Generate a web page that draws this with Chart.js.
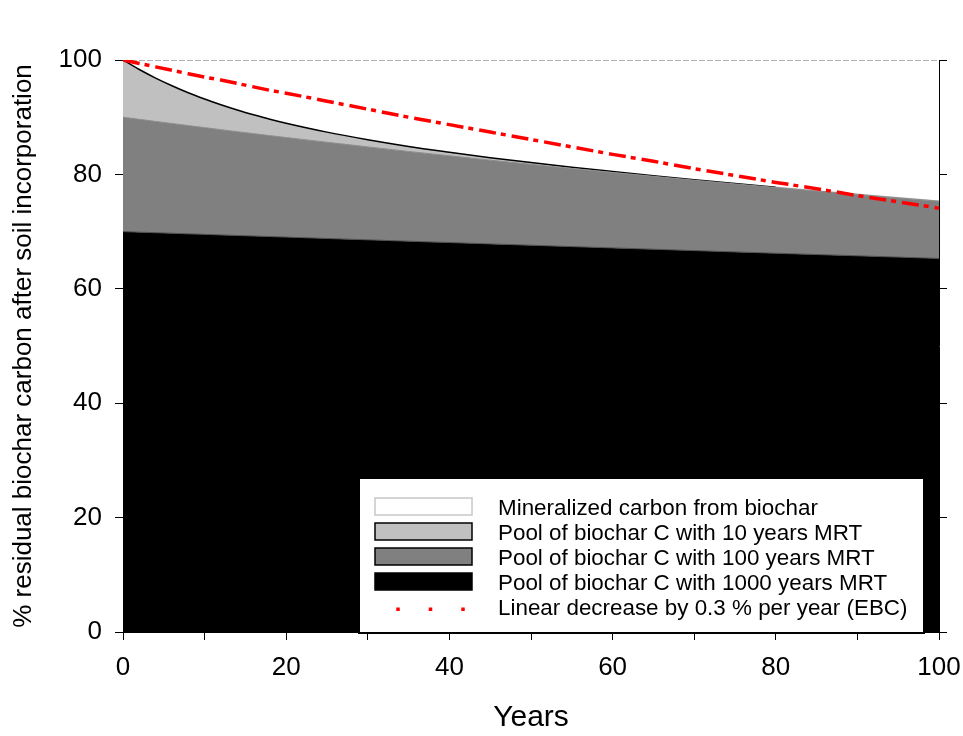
<!DOCTYPE html>
<html><head><meta charset="utf-8">
<script src="https://cdn.jsdelivr.net/npm/chart.js@4.4.1/dist/chart.umd.min.js"></script>
<style>html,body{margin:0;padding:0;background:#fff}canvas{display:block}</style>
</head><body>
<canvas id="c" width="963" height="736"></canvas>
<script>
// ---- data ----
const years    = [0,2,4,6,8,10,12,14,16,18,20,25,30,35,40,45,50,55,60,65,70,75,80,85,90,95,100];
const pool1000 = [70.00,69.90,69.81,69.71,69.61,69.52,69.42,69.32,69.23,69.13,69.04,68.80,68.56,68.32,68.09,67.85,67.62,67.38,67.15,66.92,66.68,66.45,66.22,65.99,65.77,65.54,65.31];
const pool100  = [20.00,19.73,19.45,19.19,18.92,18.66,18.40,18.15,17.90,17.65,17.41,16.82,16.25,15.69,15.16,14.64,14.14,13.66,13.20,12.75,12.31,11.89,11.49,11.10,10.72,10.35,10.00];
const pool10   = [10.00,8.71,7.58,6.60,5.74,5.00,4.35,3.79,3.30,2.87,2.50,1.77,1.25,0.88,0.63,0.44,0.31,0.22,0.16,0.11,0.08,0.06,0.04,0.03,0.02,0.01,0.01];
const ebcLine  = [100.0,99.4,98.8,98.2,97.6,97.0,96.5,95.9,95.3,94.7,94.2,92.8,91.4,90.0,88.7,87.4,86.1,84.8,83.5,82.3,81.0,79.8,78.6,77.5,76.3,75.2,74.1];
const mineralYears = [0,100];
const mineralTop   = [100,100];
const xTicks = [0,20,40,60,80,100];
const yTicks = [0,20,40,60,80,100];
const legendLabels = [
  'Mineralized carbon from biochar',
  'Pool of biochar C with 10 years MRT',
  'Pool of biochar C with 100 years MRT',
  'Pool of biochar C with 1000 years MRT',
  'Linear decrease by 0.3 % per year (EBC)'
];
const xTitle = 'Years';
const yTitle = '% residual biochar carbon after soil incorporation';

const FONT = "'Liberation Sans', Arial, Helvetica, sans-serif";
const pts = arr => years.map((x,i)=>({x:x, y:arr[i]}));

const legendPlugin = {
  id:'customLegend',
  afterDraw(chart){
    const ctx = chart.ctx, ca = chart.chartArea;
    const x0 = ca.left + 236, y0 = ca.bottom - 154, x1 = ca.right - 15, y1 = ca.bottom + 1;
    ctx.save();
    ctx.fillStyle = '#fff';
    ctx.fillRect(x0, y0, x1-x0, y1-y0);
    ctx.lineWidth = 2; ctx.strokeStyle = '#000';
    ctx.strokeRect(x0, y0, x1-x0, y1-y0);
    const styles = [
      {fill:'#fff', stroke:'#c8c8c8'},
      {fill:'#c0c0c0', stroke:'#000'},
      {fill:'#808080', stroke:'#000'},
      {fill:'#000', stroke:'#000'},
      {dots:true}
    ];
    ctx.font = '22.4px ' + FONT;
    ctx.textBaseline = 'alphabetic';
    ctx.textAlign = 'left';
    legendLabels.forEach((lab,i)=>{
      const cy = y0 + 28.5 + i*25;
      const st = styles[i];
      const sx = x0 + 16, sw = 97, sh = 17;
      if (st.dots){
        ctx.fillStyle = '#ff0000';
        [sx+23, sx+55.5, sx+88].forEach(dx=>ctx.fillRect(dx-1.75, cy+1, 3.5, 3.5));
      } else {
        ctx.fillStyle = st.fill;
        ctx.fillRect(sx, cy-sh/2, sw, sh);
        ctx.lineWidth = 1.5; ctx.strokeStyle = st.stroke;
        ctx.strokeRect(sx, cy-sh/2, sw, sh);
      }
      ctx.fillStyle = '#000';
      ctx.fillText(lab, x0 + 139, cy + 8);
    });
    ctx.restore();
  }
};

new Chart(document.getElementById('c'), {
  type:'line',
  data:{
    datasets:[
      {label:legendLabels[4], data:pts(ebcLine), stack:'ebc', borderColor:'#ff0000', borderWidth:3.5,
       borderDash:[17,5,5,6], fill:false, pointRadius:0, tension:0, order:0},
      {label:legendLabels[3], data:pts(pool1000), stack:'pools', borderColor:'#505050', borderWidth:1,
       backgroundColor:'#000000', fill:'origin', pointRadius:0, cubicInterpolationMode:'monotone', order:1},
      {label:legendLabels[2], data:pts(pool100), stack:'pools', borderColor:'#8c8c8c', borderWidth:1,
       backgroundColor:'#808080', fill:'-1', pointRadius:0, cubicInterpolationMode:'monotone', order:2},
      {label:legendLabels[1], data:pts(pool10), stack:'pools', borderColor:'#000', borderWidth:1.5,
       segment:{borderColor: c => c.p0.parsed.x >= 80 ? '#b8b8b8' : '#000'},
       backgroundColor:'#c0c0c0', fill:'-1', pointRadius:0, cubicInterpolationMode:'monotone', order:3},
      {label:legendLabels[0], data:mineralYears.map((x,i)=>({x:x,y:mineralTop[i]})), stack:'min',
       borderColor:'#9a9a9a', borderWidth:1.5, borderDash:[6,2], fill:false, pointRadius:0, order:4}
    ]
  },
  options:{
    responsive:false, animation:false,
    layout:{padding:{top:60, left:0, right:0, bottom:0}},
    plugins:{legend:{display:false}, tooltip:{enabled:false}},
    scales:{
      x:{type:'linear', min:0, max:100, position:'bottom',
        afterFit: s => { s.height = 104; s.paddingLeft = 0; s.paddingRight = 0; },
        ticks:{stepSize:10, autoSkip:false, maxRotation:0, color:'#000', padding:12,
          font:{family:FONT, size:26},
          callback: v => xTicks.includes(v) ? String(v) : ''},
        grid:{drawOnChartArea:false, drawTicks:true, tickLength:8, color:'#000', lineWidth:1},
        border:{display:true, color:'#000', width:1},
        title:{display:true, text:xTitle, color:'#000', font:{family:FONT, size:30}, padding:{top:-4,bottom:0}}
      },
      y:{type:'linear', min:0, max:100, stacked:true, position:'left',
        afterFit: s => { s.width = 123; s.paddingTop = 0; s.paddingBottom = 0; },
        ticks:{stepSize:20, color:'#000', padding:13, font:{family:FONT, size:26},
          callback: v => yTicks.includes(v) ? String(v) : ''},
        grid:{drawOnChartArea:false, drawTicks:true, tickLength:8, color:'#000', lineWidth:1},
        border:{display:true, color:'#000', width:1},
        title:{display:true, text:yTitle, color:'#000', font:{family:FONT, size:26}, padding:{top:8,bottom:0}}
      },
      y2:{type:'linear', min:0, max:100, position:'right',
        afterFit: s => { s.width = 24; s.paddingTop = 0; s.paddingBottom = 0; },
        ticks:{stepSize:20, display:false},
        grid:{drawOnChartArea:false, drawTicks:true, tickLength:8, color:'#000', lineWidth:1},
        border:{display:true, color:'#000', width:1}
      }
    }
  },
  plugins:[legendPlugin]
});
</script>
</body></html>
